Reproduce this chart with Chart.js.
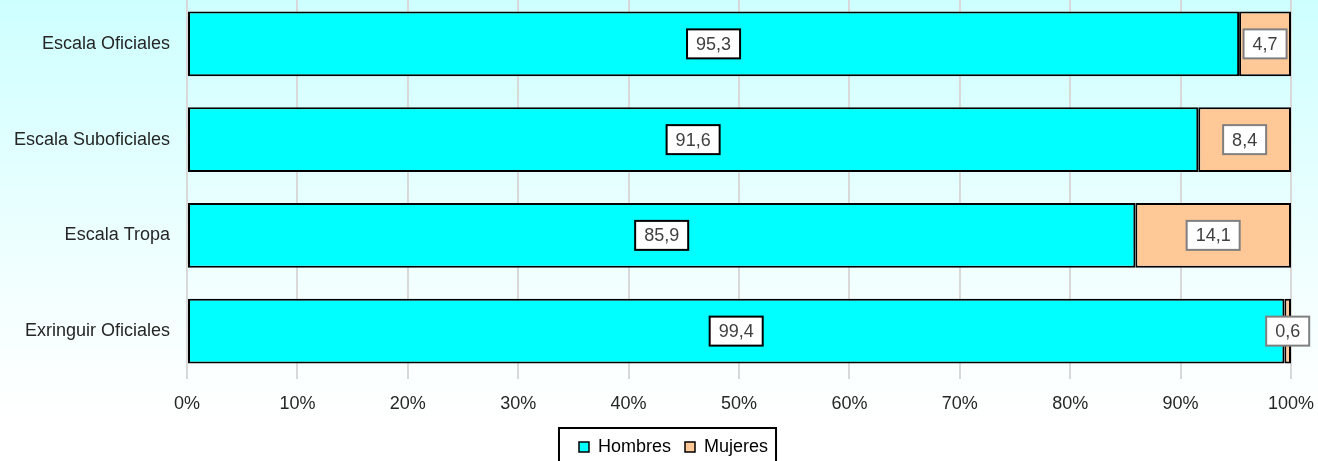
<!DOCTYPE html>
<html>
<head>
<meta charset="utf-8">
<script src="https://cdn.jsdelivr.net/npm/chart.js@4"></script>
<style>
  html, body { margin: 0; padding: 0; overflow: hidden; }
  body { width: 1318px; height: 461px; background: linear-gradient(to bottom, #ceffff 0px, #f4ffff 300px, #ffffff 420px); }
  #wrap { position: absolute; left: 0; top: -4px; width: 1318px; height: 470px; }
</style>
</head>
<body>
<div id="wrap"><canvas id="chart"></canvas></div>
<script>
// datos del gráfico
const categorias = ["Escala Oficiales", "Escala Suboficiales", "Escala Tropa", "Exringuir Oficiales"];
const hombres = [95.3, 91.6, 85.9, 99.4];
const mujeres = [4.7, 8.4, 14.1, 0.6];
const ticksX = [0, 10, 20, 30, 40, 50, 60, 70, 80, 90, 100];

const FONT = "Arial, 'Liberation Sans', sans-serif";

// cajas blancas con el valor en el centro de cada barra
const labelBoxes = {
  id: "labelBoxes",
  afterDatasetsDraw(chart) {
    const ctx = chart.ctx;
    ctx.save();
    ctx.font = "18px " + FONT;
    ctx.textAlign = "center";
    ctx.textBaseline = "middle";
    chart.data.datasets.forEach((ds, i) => {
      const meta = chart.getDatasetMeta(i);
      meta.data.forEach((bar, j) => {
        const txt = ds.data[j].toFixed(1).replace(".", ",");
        const cx = (bar.x + bar.base) / 2;
        const cy = bar.y;
        const w = ctx.measureText(txt).width + 18;
        const h = 29;
        ctx.fillStyle = "#ffffff";
        ctx.fillRect(cx - w / 2, cy - h / 2, w, h);
        ctx.lineWidth = 2;
        ctx.strokeStyle = i === 0 ? "#000000" : "#808080";
        ctx.strokeRect(cx - w / 2, cy - h / 2, w, h);
        ctx.fillStyle = "#404040";
        ctx.fillText(txt, cx, cy + 1);
      });
    });
    ctx.restore();
  }
};

// la leyenda está algo a la derecha del centro en el original
const legendShift = {
  id: "legendShift",
  afterLayout(chart) {
    if (!chart.legend) return;
    chart.legend.left += 28;
    chart.legend.right += 28;
  }
};

// marco de la leyenda
const legendFrame = {
  id: "legendFrame",
  afterDraw(chart) {
    const boxes = chart.legend && chart.legend.legendHitBoxes;
    if (!boxes || !boxes.length) return;
    const left = Math.min(...boxes.map(b => b.left)) - 20;
    const right = Math.max(...boxes.map(b => b.left + b.width)) + 8;
    const top = Math.min(...boxes.map(b => b.top)) - 10;
    const ctx = chart.ctx;
    ctx.save();
    ctx.lineWidth = 2;
    ctx.strokeStyle = "#000000";
    ctx.strokeRect(left, top, right - left, chart.height - top + 10);
    ctx.restore();
  }
};

new Chart(document.getElementById("chart"), {
  type: "bar",
  data: {
    labels: categorias,
    datasets: [
      {
        label: "Hombres",
        data: hombres,
        backgroundColor: "#00ffff",
        borderColor: "#000000",
        borderWidth: 2,
        borderSkipped: false,
        barPercentage: 0.675,
        categoryPercentage: 1
      },
      {
        label: "Mujeres",
        data: mujeres,
        backgroundColor: "#ffc896",
        borderColor: "#000000",
        borderWidth: 2,
        borderSkipped: false,
        barPercentage: 0.675,
        categoryPercentage: 1
      }
    ]
  },
  options: {
    indexAxis: "y",
    responsive: true,
    maintainAspectRatio: false,
    animation: false,
    layout: { padding: { left: 0, right: 27, top: 0, bottom: 0 } },
    scales: {
      x: {
        stacked: true,
        min: 0,
        max: 100,
        afterBuildTicks: (scale) => { scale.ticks = ticksX.map(v => ({ value: v })); },
        afterFit: (scale) => {
          const legH = scale.chart.legend ? scale.chart.legend.height : 0;
          scale.height = scale.chart.height - 383 - legH;
          scale.paddingLeft = 0;
          scale.paddingRight = 0;
        },
        border: { display: false },
        grid: { color: "#d9d9d9", lineWidth: 2, drawTicks: false },
        ticks: {
          color: "#262626",
          font: { family: FONT, size: 18 },
          padding: 14,
          maxRotation: 0,
          callback: (v) => v + "%"
        }
      },
      y: {
        stacked: true,
        afterFit: (scale) => {
          scale.width = 187;
          scale.paddingTop = 0;
          scale.paddingBottom = 0;
        },
        border: { display: false },
        grid: { display: false, drawTicks: false },
        ticks: {
          color: "#262626",
          font: { family: FONT, size: 18 },
          padding: 17
        }
      }
    },
    plugins: {
      legend: {
        position: "bottom",
        labels: {
          color: "#000000",
          font: { family: FONT, size: 18 },
          boxWidth: 10,
          boxHeight: 10,
          padding: 14,
          generateLabels: (chart) => chart.data.datasets.map((ds, i) => ({
            text: ds.label,
            fillStyle: ds.backgroundColor,
            strokeStyle: "#000000",
            lineWidth: 1.5,
            fontColor: "#000000",
            datasetIndex: i
          }))
        }
      },
      tooltip: { enabled: false }
    }
  },
  plugins: [labelBoxes, legendShift, legendFrame]
});
</script>
</body>
</html>
